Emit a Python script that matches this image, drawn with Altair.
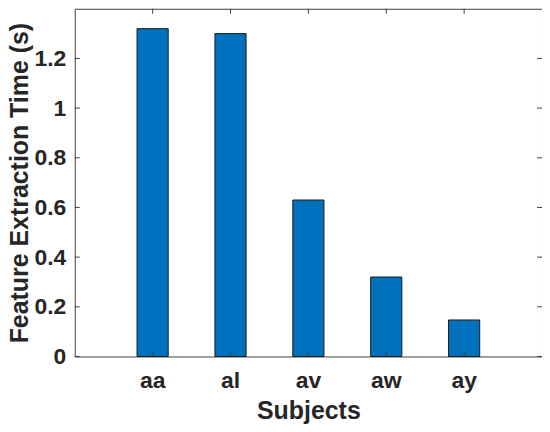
import altair as alt
import pandas as pd

subjects = ["aa", "al", "av", "aw", "ay"]
times = [1.32, 1.30, 0.63, 0.32, 0.147]
y_ticks = [0, 0.2, 0.4, 0.6, 0.8, 1.0, 1.2]

W, H = 469, 349
FONT = "Liberation Sans"
TXT = "#262626"
AX = "#404040"

df = pd.DataFrame({"Subject": subjects, "Time": times})
tk = pd.DataFrame({"v": y_ticks})

xscale = alt.Scale(domain=subjects, paddingInner=0.6, paddingOuter=0.8)
yscale = alt.Scale(domain=[0, 1.4], nice=False, zero=True)

xaxis = alt.Axis(title="Subjects", labelAngle=0, ticks=False, domain=False,
                 labelPadding=13, titlePadding=6, labelFontSize=23, titleFontSize=25)
yaxis = alt.Axis(title="Feature Extraction Time (s)", values=y_ticks, format="~g",
                 ticks=False, domain=False, grid=False, labelPadding=9,
                 titlePadding=1, labelFontSize=23, titleFontSize=25)

bars = alt.Chart(df).mark_bar(color="#0072BD", stroke="#1a1a1a", strokeWidth=1).encode(
    x=alt.X("Subject:N", scale=xscale, sort=subjects, axis=xaxis),
    y=alt.Y("Time:Q", scale=yscale, axis=yaxis),
)

xt_bottom = alt.Chart(df).mark_rule(color=AX, strokeWidth=1).encode(
    x=alt.X("Subject:N", scale=xscale, sort=subjects, axis=xaxis),
    y=alt.value(H), y2=alt.value(H - 5))
xt_top = alt.Chart(df).mark_rule(color=AX, strokeWidth=1).encode(
    x=alt.X("Subject:N", scale=xscale, sort=subjects, axis=xaxis),
    y=alt.value(0), y2=alt.value(5))
yt_left = alt.Chart(tk).mark_rule(color=AX, strokeWidth=1).encode(
    y=alt.Y("v:Q", scale=yscale, axis=yaxis),
    x=alt.value(0), x2=alt.value(5))
yt_right = alt.Chart(tk).mark_rule(color=AX, strokeWidth=1).encode(
    y=alt.Y("v:Q", scale=yscale, axis=yaxis),
    x=alt.value(W - 5), x2=alt.value(W))

chart = alt.layer(bars, xt_bottom, xt_top, yt_left, yt_right).properties(
    width=W, height=H,
    autosize=alt.AutoSizeParams(type="none"),
    padding={"left": 67, "top": 0, "right": 0, "bottom": 67},
).configure_view(
    stroke=AX, strokeWidth=1
).configure_axis(
    labelFont=FONT, titleFont=FONT, labelColor=TXT, titleColor=TXT,
    labelFontWeight="bold", titleFontWeight="bold", grid=False
)

chart.save("out.html", embed_options={"renderer": "svg", "actions": False})
